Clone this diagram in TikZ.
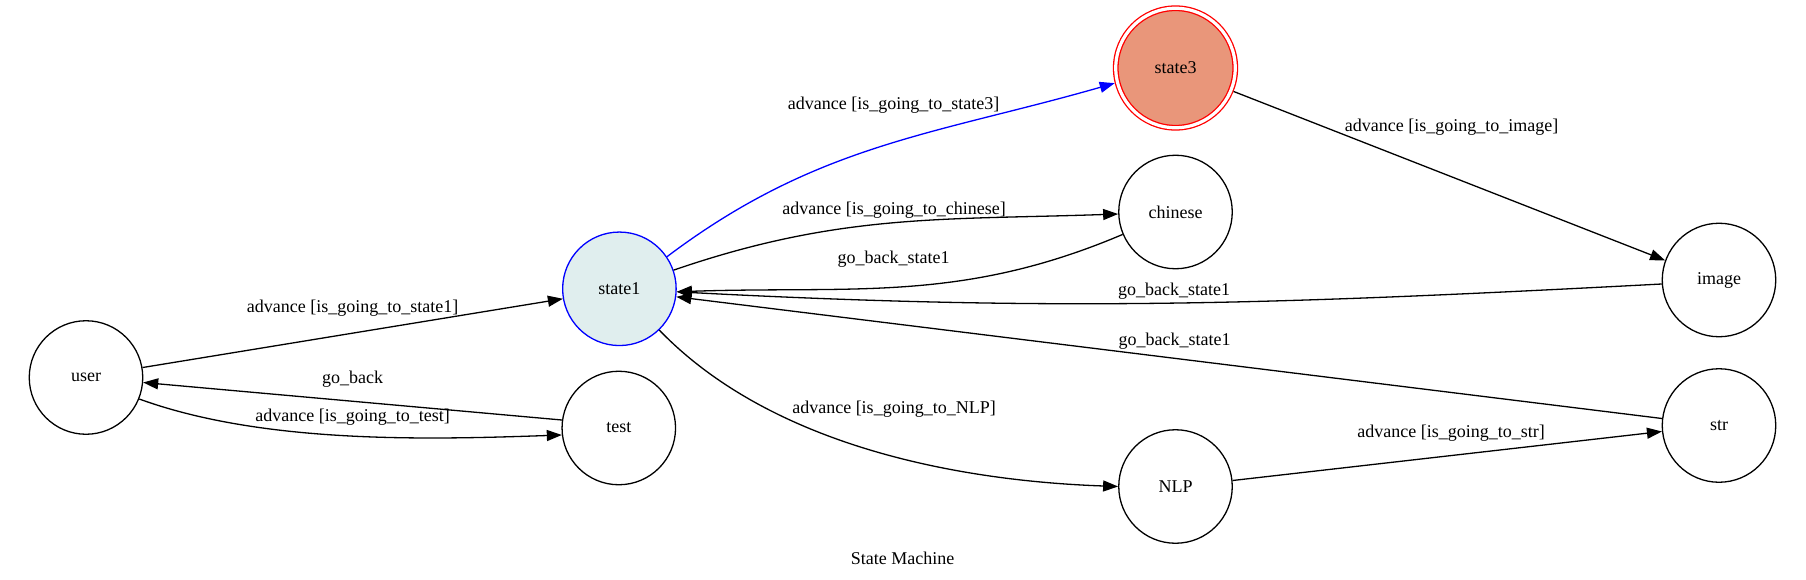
\documentclass[tikz,border=0pt]{standalone}
\usepackage{fontspec}
\setmainfont{Liberation Serif}
\usetikzlibrary{arrows.meta}
\definecolor{azuretwo}{HTML}{E0EEEE}
\definecolor{darksalmon}{HTML}{E9967A}
\tikzset{
	st/.style={circle,draw,minimum size=113.5pt,inner sep=0pt,line width=1.3pt,font=\fontsize{18}{21.6}\selectfont},
	lb/.style={inner sep=0pt,font=\fontsize{18}{21.6}\selectfont},
	tr/.style={line width=1.3pt,-{Triangle[length=15pt,width=11pt]}},
}
\begin{document}
\begin{tikzpicture}[x=1pt,y=-1pt]
		\useasboundingbox (0,0) rectangle (1806,580);
		\node[st] (user) at (86,377.5) {user};
		\node[st,draw=blue,fill=azuretwo] (state1) at (619.4,288.8) {state1};
		\node[st] (test) at (618.8,428) {test};
		\node[st,draw=red,fill=darksalmon,double,double distance=3.2pt,minimum size=119.5pt,outer sep=2.9pt] (state3) at (1175.5,68) {state3};
		\node[st] (chinese) at (1175.5,212) {chinese};
		\node[st] (NLP) at (1175.5,486.5) {NLP};
		\node[st] (image) at (1719,280) {image};
		\node[st] (str) at (1719,425.5) {str};
		\draw[tr] (user.10)--(state1.190);
		\draw[tr] (test.172)--(user.-5);
		\draw[tr] (user.-22) to[out=-20,in=182,looseness=0.8] (test.187);
		\draw[tr,draw=blue] (state1.34) to[out=37,in=196] (state3.194);
		\draw[tr] (state1.19) to[out=19,in=182] (chinese.182);
		\draw[tr] (chinese.203) to[out=203,in=2] (state1.-3);
		\draw[tr] (image.184) to[out=183,in=-3] (state1.-3);
		\draw[tr] (str.173)--(state1.-8);
		\draw[tr] (state1.-46) to[out=-46,in=178,looseness=0.85] (NLP.180);
		\draw[tr] (state3.-22)--(image.160);
		\draw[tr] (NLP.6)--(str.186);
		\node[lb] (l-state1) at (352.7,308.3) {advance [is\_going\_to\_state1]};
		\node[lb] (l-goback) at (352.7,379) {go\_back};
		\node[lb] (l-test) at (352.7,416.7) {advance [is\_going\_to\_test]};
		\node[lb] (l-state3) at (893.7,105) {advance [is\_going\_to\_state3]};
		\node[lb] (l-chinese) at (894,210) {advance [is\_going\_to\_chinese]};
		\node[lb] (l-back-c) at (893.6,259) {go\_back\_state1};
		\node[lb] (l-back-i) at (1174,291) {go\_back\_state1};
		\node[lb] (l-back-s) at (1174.5,341.5) {go\_back\_state1};
		\node[lb] (l-nlp) at (894,409.3) {advance [is\_going\_to\_NLP]};
		\node[lb] (l-image) at (1451.5,127) {advance [is\_going\_to\_image]};
		\node[lb] (l-str) at (1451,433) {advance [is\_going\_to\_str]};
		\node[lb] (title) at (902.5,558.3) {State Machine};
	\end{tikzpicture}
\end{document}
